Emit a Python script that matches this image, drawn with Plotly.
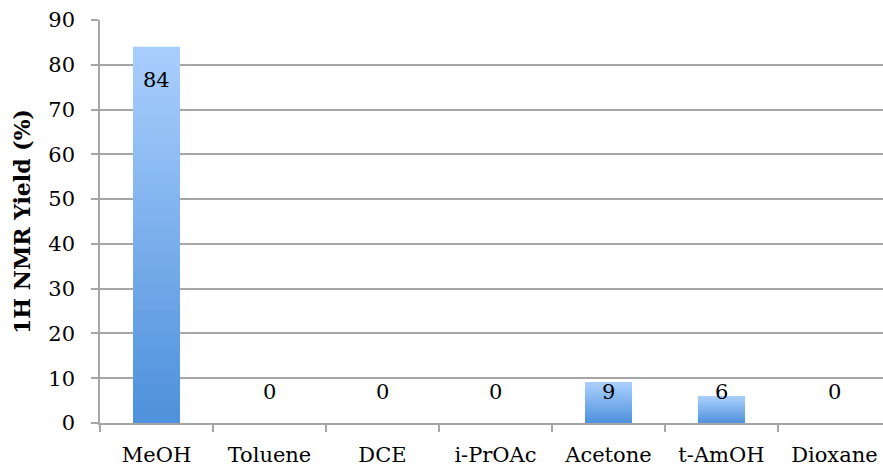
import plotly.graph_objects as go

# Solvent screen: 1H NMR yield per solvent
solvents = ["MeOH", "Toluene", "DCE", "i-PrOAc", "Acetone", "t-AmOH", "Dioxane"]
yields = [84, 0, 0, 0, 9, 6, 0]
y_ticks = [0, 10, 20, 30, 40, 50, 60, 70, 80, 90]

TOP = (168, 206, 253)     # light blue at bar top
BOTTOM = (76, 143, 219)   # deeper blue at bar base
N_SLICES = 60
FONT = "DejaVu Serif"
GRID = "#a6a6a6"

fig = go.Figure()

# Each bar is built from stacked slices so it fades from dark (base) to light (top);
# every slice reaches a little below its own base so no seams show between them
for i in range(N_SLICES):
    t = (i + 0.5) / N_SLICES
    r, g, b = (round(BOTTOM[k] + (TOP[k] - BOTTOM[k]) * t) for k in range(3))
    fig.add_trace(go.Bar(
        x=solvents,
        y=[v / N_SLICES * 1.8 for v in yields],
        base=[v * (i - 0.8) / N_SLICES for v in yields],
        width=0.415,
        marker=dict(color=f"rgb({r},{g},{b})", line=dict(width=0)),
        hoverinfo="skip",
        showlegend=False,
    ))

# Value labels: inside the top of tall bars, above the axis for short ones
for s, v in zip(solvents, yields):
    fig.add_annotation(
        x=s, y=max(v - 7.4, 7), text=str(v), showarrow=False,
        font=dict(family=FONT, size=21, color="black"),
        xanchor="center", yanchor="middle",
    )

fig.update_layout(
    width=883, height=467,
    margin=dict(l=100, r=0, t=20, b=42),
    paper_bgcolor="white", plot_bgcolor="white",
    barmode="overlay",
    font=dict(family=FONT, size=21, color="black"),
    xaxis=dict(
        type="category",
        range=[-0.5, 6.43],
        showline=True, linecolor=GRID, linewidth=1.5,
        ticks="outside", tickson="boundaries", ticklen=7,
        tickcolor=GRID, tickwidth=1.5,
        showgrid=False,
        tickfont=dict(family=FONT, size=21),
        ticklabelstandoff=12,
    ),
    yaxis=dict(
        range=[0, 90],
        tickvals=y_ticks,
        showline=True, linecolor=GRID, linewidth=1.5,
        ticks="outside", ticklen=7, tickcolor=GRID, tickwidth=1.5,
        showgrid=True, gridcolor=GRID, gridwidth=1.5,
        zeroline=False,
        tickfont=dict(family=FONT, size=21),
        ticklabelstandoff=12,
        title=dict(text="<b>1H NMR Yield (%)</b>",
                   font=dict(family=FONT, size=22), standoff=12),
    ),
)

fig.write_html("out.html")
